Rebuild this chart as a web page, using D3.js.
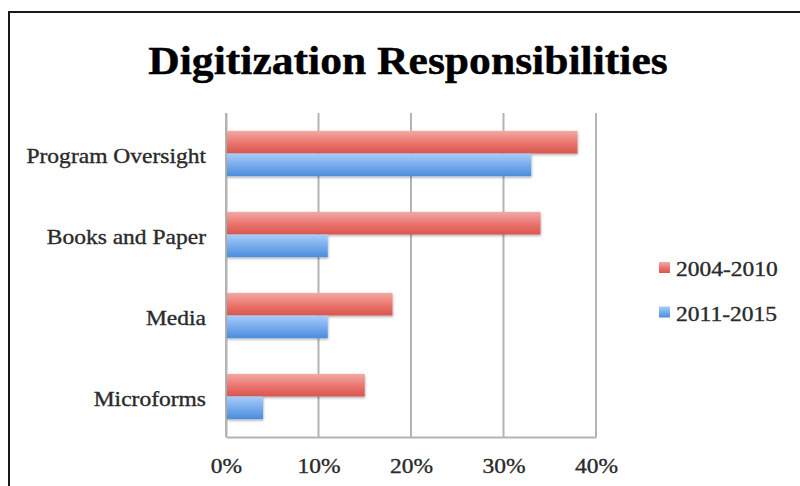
<!DOCTYPE html>
<html>
<head>
<meta charset="utf-8">
<script src="https://cdn.jsdelivr.net/npm/d3@7"></script>
<style>
  html, body { margin: 0; padding: 0; background: #fff; }
  svg { display: block; }
  text { font-family: "Liberation Serif", "Times New Roman", serif; }
</style>
</head>
<body>
<svg id="chart" width="800" height="486"></svg>
<script>
// Digitization responsibilities by period (share of respondents)
const categories = ["Program Oversight", "Books and Paper", "Media", "Microforms"];
const seriesNames = ["2004-2010", "2011-2015"];
const values2004_2010 = [0.38, 0.34, 0.18, 0.15];
const values2011_2015 = [0.33, 0.11, 0.11, 0.04];
const tickValues = [0, 0.1, 0.2, 0.3, 0.4];

const seriesValues = [values2004_2010, values2011_2015];
const rows = categories.map((c, i) => ({
  category: c,
  values: seriesNames.map((s, j) => ({ series: s, value: seriesValues[j][i] }))
}));

const svg = d3.select("#chart");
const margin = { top: 113, left: 226, right: 204, bottom: 49 };
const W = 800, H = 486;
const stretch = 1.12; // widen the serif glyphs slightly
const labelColor = "#2a2a2a";

const x = d3.scaleLinear().domain([0, 0.4]).range([margin.left, W - margin.right]);
const y = d3.scaleBand().domain(categories)
  .range([margin.top, H - margin.bottom])
  .paddingInner(0.44).paddingOuter(0.22);
const ySub = d3.scaleBand().domain(seriesNames).range([0, y.bandwidth()]).padding(0);

const defs = svg.append("defs");
const gradStops = {
  "2004-2010": ["#f3aaa6", "#e9736c", "#d8564f"],
  "2011-2015": ["#a9ccf8", "#74a9ec", "#4a8dda"]
};
const gradId = d3.scaleOrdinal().domain(seriesNames).range(["gradRed", "gradBlue"]);
seriesNames.forEach(s => {
  const g = defs.append("linearGradient").attr("id", gradId(s))
    .attr("x1", 0).attr("y1", 0).attr("x2", 0).attr("y2", 1);
  g.append("stop").attr("offset", "0%").attr("stop-color", gradStops[s][0]);
  g.append("stop").attr("offset", "55%").attr("stop-color", gradStops[s][1]);
  g.append("stop").attr("offset", "100%").attr("stop-color", gradStops[s][2]);
});
const shadow = defs.append("filter").attr("id", "barShadow")
  .attr("x", "-5%").attr("y", "-20%").attr("width", "110%").attr("height", "160%");
shadow.append("feDropShadow").attr("dx", 0.5).attr("dy", 1.5)
  .attr("stdDeviation", 1.1).attr("flood-color", "#000").attr("flood-opacity", 0.3);

// Outer frame (left and top edges visible)
svg.append("path")
  .attr("d", d3.line()([[9, H + 5], [9, 12], [W + 5, 12]]))
  .attr("fill", "none").attr("stroke", "#1a1a1a").attr("stroke-width", 2);

// Title
svg.append("text")
  .attr("transform", `translate(${(x(0) + x(0.4)) / 2 - 3},74) scale(1.09,1)`)
  .attr("text-anchor", "middle")
  .attr("font-size", 40).attr("font-weight", "bold").attr("fill", "#000")
  .attr("stroke", "#000").attr("stroke-width", 0.4)
  .text("Digitization Responsibilities");

// Vertical gridlines
svg.append("g").selectAll("line").data(tickValues).join("line")
  .attr("x1", d => x(d)).attr("x2", d => x(d))
  .attr("y1", margin.top).attr("y2", H - margin.bottom)
  .attr("stroke", "#b4b4b4").attr("stroke-width", 2);

// Bottom axis line and tick labels
const xAxis = svg.append("g")
  .attr("transform", `translate(0,${H - margin.bottom})`)
  .call(d3.axisBottom(x).tickValues(tickValues).tickFormat(d3.format(".0%")).tickSize(0).tickPadding(0));
xAxis.select(".domain").attr("stroke", "#b4b4b4").attr("stroke-width", 2);
xAxis.selectAll("text")
  .attr("y", 36).attr("dy", 0)
  .attr("transform", `scale(${stretch},1)`)
  .attr("font-size", 21).attr("fill", labelColor)
  .attr("stroke", labelColor).attr("stroke-width", 0.35)
  .style("font-family", '"Liberation Serif", serif');

// Left axis line and category labels
const yAxis = svg.append("g")
  .attr("transform", `translate(${margin.left},0)`)
  .call(d3.axisLeft(y).tickSize(0).tickPadding(0));
yAxis.select(".domain").attr("stroke", "#b4b4b4").attr("stroke-width", 2);
yAxis.selectAll("text")
  .attr("x", -20 / stretch).attr("dy", "0.43em")
  .attr("transform", `scale(${stretch},1)`)
  .attr("font-size", 21).attr("fill", labelColor)
  .attr("stroke", labelColor).attr("stroke-width", 0.35)
  .style("font-family", '"Liberation Serif", serif');

// Bars
const groups = svg.append("g").selectAll("g").data(rows).join("g")
  .attr("transform", d => `translate(0,${y(d.category)})`);
groups.selectAll("rect").data(d => d.values).join("rect")
  .attr("x", x(0) + 1)
  .attr("y", d => ySub(d.series))
  .attr("width", d => x(d.value) - x(0) - 1)
  .attr("height", ySub.bandwidth())
  .attr("fill", d => `url(#${gradId(d.series)})`)
  .attr("filter", "url(#barShadow)");

// Legend
const legend = svg.append("g").selectAll("g").data(seriesNames).join("g")
  .attr("transform", (d, i) => `translate(659,${262 + i * 44.5})`);
legend.append("rect")
  .attr("width", 11).attr("height", 11)
  .attr("fill", d => `url(#${gradId(d)})`);
legend.append("text")
  .attr("transform", `translate(17,14) scale(${stretch},1)`)
  .attr("font-size", 21).attr("fill", labelColor)
  .attr("stroke", labelColor).attr("stroke-width", 0.35)
  .text(d => d);
</script>
</body>
</html>
